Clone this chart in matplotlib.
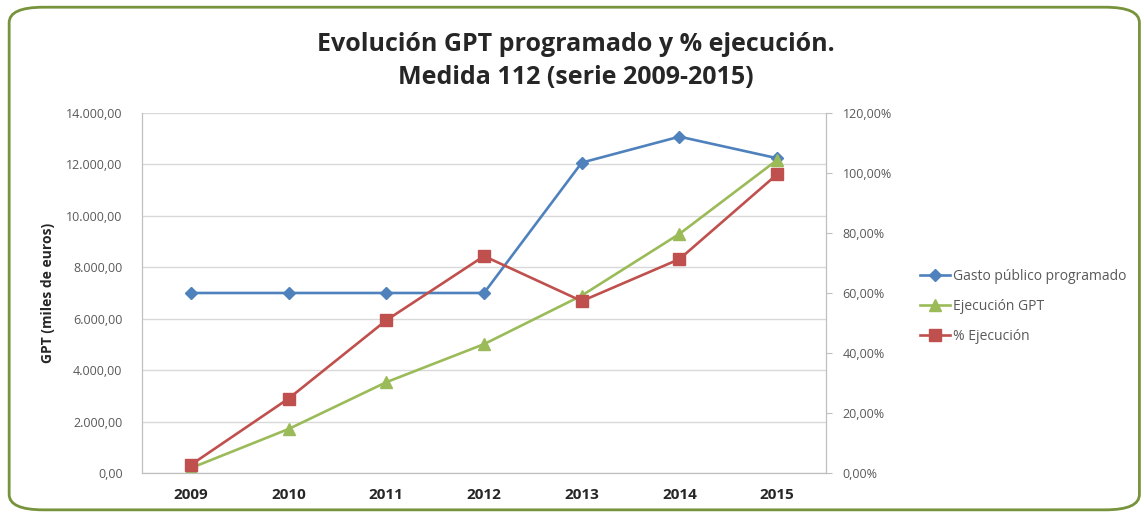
import matplotlib.pyplot as plt
from matplotlib.patches import FancyBboxPatch
from matplotlib.ticker import FuncFormatter

# Datos
years = ['2009', '2010', '2011', '2012', '2013', '2014', '2015']
gasto_programado = [7000, 7000, 7000, 7000, 12070, 13080, 12240]
ejecucion_gpt = [190, 1710, 3530, 5010, 6900, 9300, 12175]
pct_ejecucion = [2.7, 24.8, 50.9, 72.3, 57.3, 71.3, 99.6]

blue = '#4F81BD'
green = '#9BBB59'
red = '#C0504D'
txt = '#595959'
font = 'Open Sans'


def miles(v, pos):
    s = '{:,.2f}'.format(v)
    return s.replace(',', 'X').replace('.', ',').replace('X', '.')


def pct(v, pos):
    return '{:.2f}%'.format(v).replace('.', ',')


fig = plt.figure(figsize=(11.44, 5.15), dpi=100)
border = FancyBboxPatch((0.008, 0.01), 0.988, 0.976, transform=fig.transFigure,
                        boxstyle='round,pad=0,rounding_size=0.03',
                        facecolor='none', edgecolor='#77933C', linewidth=2)
fig.patches.append(border)

ax = fig.add_axes([0.1241, 0.0816, 0.598, 0.699])
ax2 = ax.twinx()

x = list(range(len(years)))
l1, = ax.plot(x, gasto_programado, color=blue, lw=1.9, marker='D', ms=6,
              label='Gasto público programado')
l2, = ax.plot(x, ejecucion_gpt, color=green, lw=1.9, marker='^', ms=8,
              label='Ejecución GPT')
l3, = ax2.plot(x, pct_ejecucion, color=red, lw=1.9, marker='s', ms=8,
               label='% Ejecución')

ax.set_xlim(-0.5, 6.5)
ax.set_ylim(0, 14000)
ax2.set_ylim(0, 120)
ax.set_yticks(range(0, 14001, 2000))
ax2.set_yticks(range(0, 121, 20))
ax.yaxis.set_major_formatter(FuncFormatter(miles))
ax2.yaxis.set_major_formatter(FuncFormatter(pct))
ax.set_xticks(x)
ax.set_xticklabels(years, fontsize=11, fontweight='bold', color='#262626', family=font)
ax.grid(axis='y', color='#D9D9D9', lw=1)
ax.set_axisbelow(True)

for a in (ax, ax2):
    a.spines['top'].set_visible(False)
    for s in ('left', 'right', 'bottom'):
        a.spines[s].set_color('#BFBFBF')
    for lab in a.get_yticklabels():
        lab.set_family(font)
        lab.set_fontsize(9)
        lab.set_color(txt)

ax.tick_params(axis='y', length=0, pad=14)
ax.tick_params(axis='x', length=0, pad=11)
ax2.tick_params(axis='y', length=4, color='#BFBFBF', pad=8)

ax.set_ylabel('GPT (miles de euros)', fontsize=10, fontweight='bold', color='#262626',
              family=font, labelpad=8)

fig.text(0.503, 0.913, 'Evolución GPT programado y % ejecución.', ha='center', va='center',
         fontsize=18, fontweight='bold', color='#262626', family=font)
fig.text(0.503, 0.85, 'Medida 112 (serie 2009-2015)', ha='center', va='center',
         fontsize=18, fontweight='bold', color='#262626', family=font)

leg = fig.legend(handles=[l1, l2, l3], loc='center left', bbox_to_anchor=(0.793, 0.405),
                 frameon=False, prop={'family': font, 'size': 10}, handlelength=2.2,
                 handletextpad=0.2, labelspacing=1.05)
for t in leg.get_texts():
    t.set_color(txt)

fig.savefig('out.png', dpi=100)
